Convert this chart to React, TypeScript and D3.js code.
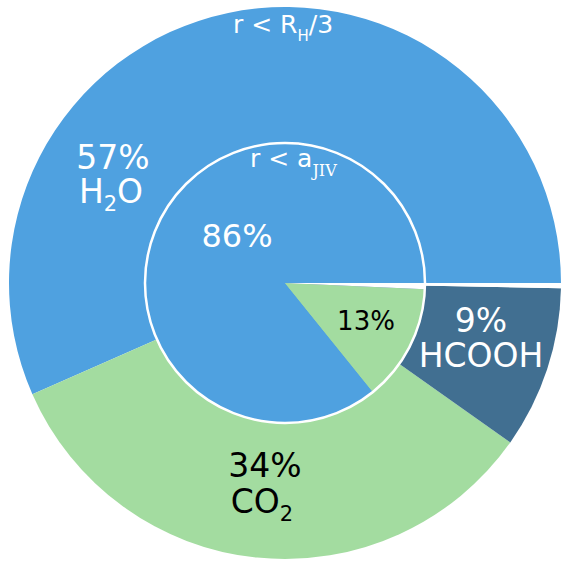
import React from "react";
import * as d3 from "d3";

const outerNames = ["H2O", "CO2", "HCOOH", "gap"];
const outerValues = [56.6, 33.6, 9.5, 0.3];
const outerColors = ["#4fa1e0", "#a3dca0", "#416f91", "#ffffff"];

const innerNames = ["rest", "CO2", "gap"];
const innerValues = [85.8, 13.5, 0.7];
const innerColors = ["#4fa1e0", "#a3dca0", "#ffffff"];

const W = 566;
const H = 566;
const cx = 285;
const cy = 283;
const R_OUT = 276;
const R_IN = 140;

const FONT = "DejaVu Sans, Verdana, sans-serif";

export default function App() {
  const pie = d3
    .pie<number>()
    .sort(null)
    .startAngle(Math.PI / 2)
    .endAngle(Math.PI / 2 - 2 * Math.PI);
  const outerArcs = pie(outerValues);
  const innerArcs = pie(innerValues);
  const arcOuter = d3.arc<d3.PieArcDatum<number>>().innerRadius(0).outerRadius(R_OUT);
  const arcInner = d3.arc<d3.PieArcDatum<number>>().innerRadius(0).outerRadius(R_IN);

  return (
    <svg
      width={W}
      height={H}
      style={{ position: "absolute", left: 0, top: 0, background: "#fff" }}
      fontFamily={FONT}
    >
      <g transform={`translate(${cx},${cy})`}>
        {outerArcs.map((a, i) => (
          <path key={outerNames[i]} d={arcOuter(a) || ""} fill={outerColors[i]} />
        ))}
        {innerArcs.map((a, i) => (
          <path key={innerNames[i]} d={arcInner(a) || ""} fill={innerColors[i]} />
        ))}
        <circle r={R_IN} fill="none" stroke="#fff" strokeWidth={2.5} />
      </g>

      {/* region labels */}
      <text x={283} y={33} fill="#fff" fontSize={25} textAnchor="middle">
        r &lt; R<tspan fontSize={15} dy={8}>H</tspan>
        <tspan dy={-8}>/3</tspan>
      </text>
      <text x={250} y={167} fill="#fff" fontSize={25}>
        r &lt; a
        <tspan fontSize={16} dy={9} fontFamily="DejaVu Serif, serif">JIV</tspan>
      </text>

      {/* outer labels */}
      <text x={113} y={169} fill="#fff" fontSize={33} textAnchor="middle">57%</text>
      <text x={111} y={203} fill="#fff" fontSize={33} textAnchor="middle">
        H<tspan fontSize={21} dy={8}>2</tspan>
        <tspan dy={-8}>O</tspan>
      </text>

      <text x={265} y={477} fill="#000" fontSize={33} textAnchor="middle">34%</text>
      <text x={262} y={513} fill="#000" fontSize={33} textAnchor="middle">
        CO<tspan fontSize={21} dy={8}>2</tspan>
      </text>

      <text x={481} y={332} fill="#fff" fontSize={33} textAnchor="middle">9%</text>
      <text x={481} y={367} fill="#fff" fontSize={33} textAnchor="middle">HCOOH</text>

      {/* inner labels */}
      <text x={237} y={247} fill="#fff" fontSize={32} textAnchor="middle">86%</text>
      <text x={366} y={330} fill="#000" fontSize={26} textAnchor="middle">13%</text>
    </svg>
  );
}
